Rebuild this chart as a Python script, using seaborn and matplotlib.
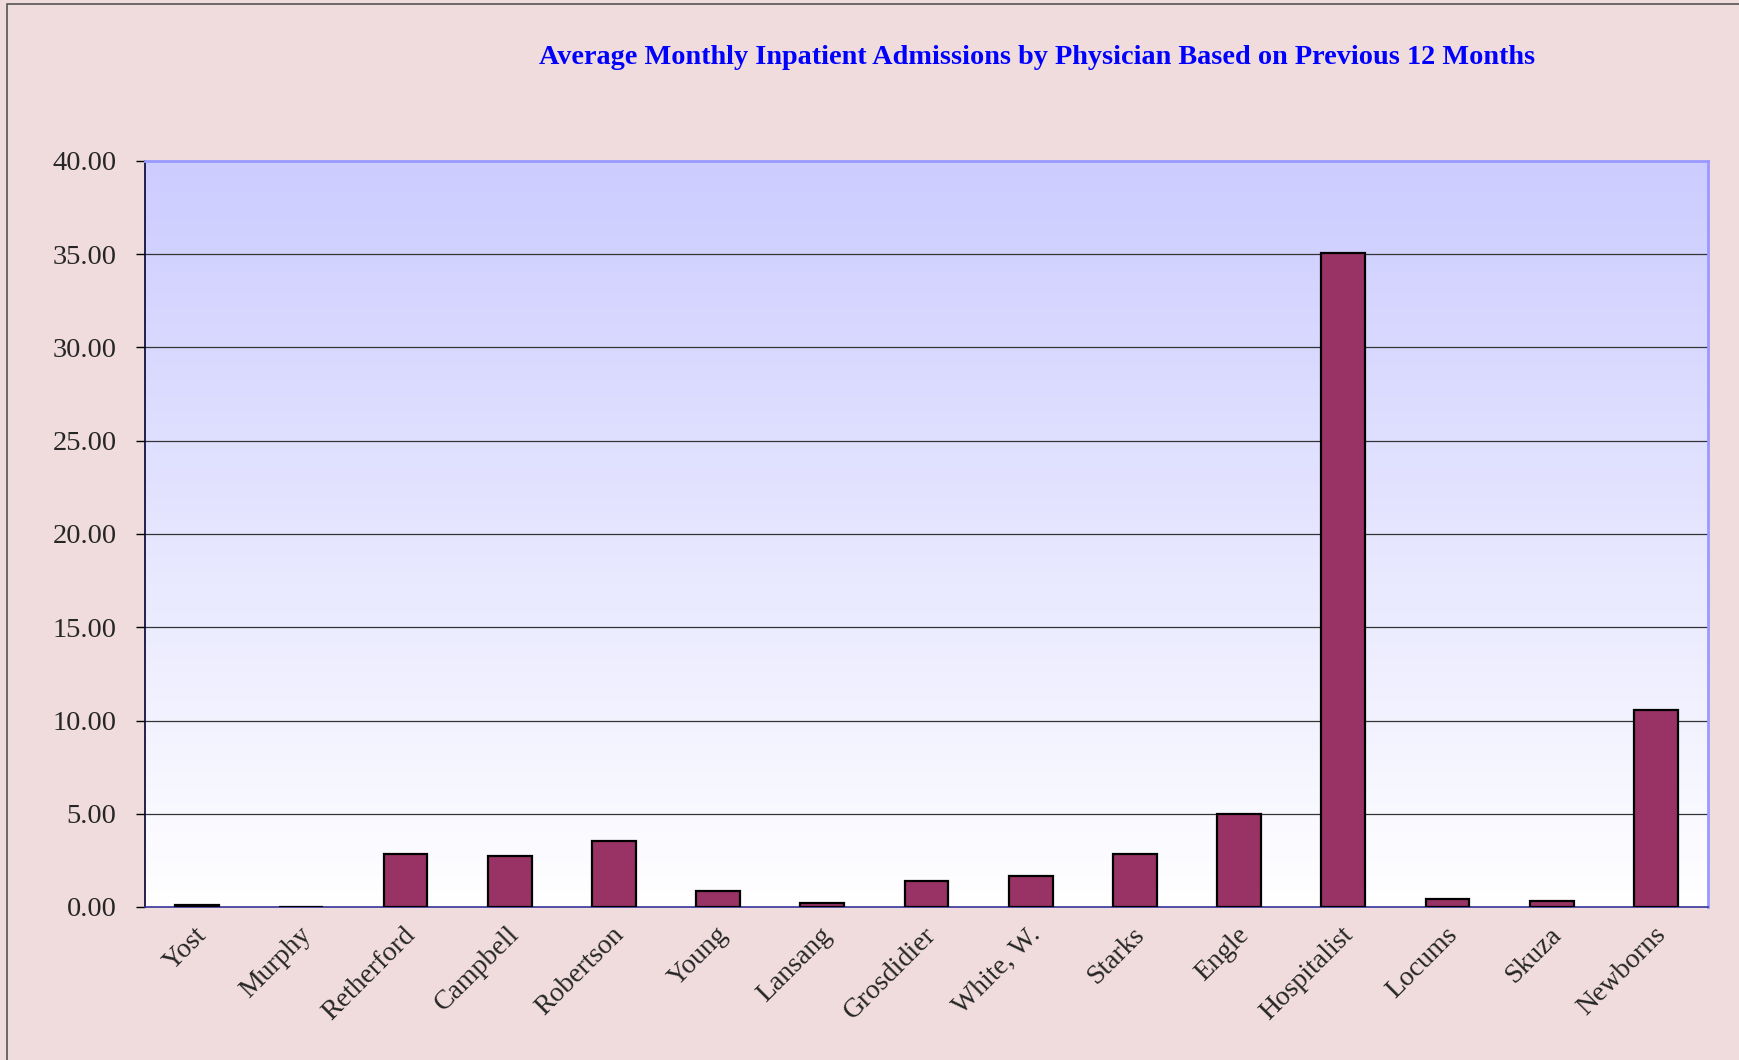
import numpy as np
import pandas as pd
import seaborn as sns
import matplotlib.pyplot as plt
import matplotlib.transforms as mtrans
from matplotlib.patches import Rectangle
from matplotlib.colors import LinearSegmentedColormap

physicians = ["Yost", "Murphy", "Retherford", "Campbell", "Robertson", "Young",
              "Lansang", "Grosdidier", "White, W.", "Starks", "Engle",
              "Hospitalist", "Locums", "Skuza", "Newborns"]
admissions = [0.10, 0.00, 2.85, 2.74, 3.56, 0.87, 0.23, 1.38, 1.66, 2.85,
              5.00, 35.08, 0.42, 0.30, 10.58]
y_ticks = [0, 5, 10, 15, 20, 25, 30, 35, 40]
title = "Average Monthly Inpatient Admissions by Physician Based on Previous 12 Months"

df = pd.DataFrame({"Physician": physicians, "Admissions": admissions})

sns.set_style("white")
plt.rcParams['font.family'] = ['Liberation Serif', 'DejaVu Serif']

fig = plt.figure(figsize=(17.39, 10.60), dpi=100)
fig.patch.set_facecolor("#F0DCDC")
ax = fig.add_axes([145 / 1739, 1 - 907 / 1060, (1708 - 145) / 1739, (907 - 161) / 1060])

# fondo degradado del area del grafico
grad = np.linspace(0, 1, 256).reshape(-1, 1)
cm = LinearSegmentedColormap.from_list("g", ["#FFFFFF", "#CCCCFF"])
ax.imshow(grad, cmap=cm, aspect="auto", origin="lower",
          extent=[-0.5, len(physicians) - 0.5, 0, 40], zorder=0)

sns.barplot(df, x="Physician", y="Admissions", color="#993366", width=0.42,
            saturation=1, edgecolor="black", linewidth=1.6, ax=ax, zorder=3)

ax.set_xlim(-0.5, len(physicians) - 0.5)
ax.set_ylim(0, 40)
ax.set_yticks(y_ticks)
ax.set_yticklabels([f"{v:.2f}" for v in y_ticks], fontsize=20.5)
for v in y_ticks[1:-1]:
    ax.axhline(v, color="#333333", linewidth=0.9, zorder=1)

ax.set_xticks(np.arange(len(physicians) + 1) - 0.5, minor=True)
ax.set_xticks(np.arange(len(physicians)))
ax.set_xticklabels(physicians, rotation=45, ha="right", rotation_mode="anchor", fontsize=20)
ax.tick_params(axis="x", which="major", length=0, pad=11)
ax.tick_params(axis="x", which="minor", length=8, width=1, color="black", direction="out")
ax.tick_params(axis="y", length=6.5, width=1, color="black", direction="out", pad=14, left=True)
off = mtrans.ScaledTranslation(-3 / 100, 0, fig.dpi_scale_trans)
for lab in ax.get_xticklabels():
    lab.set_transform(lab.get_transform() + off)
ax.set_xlabel("")
ax.set_ylabel("")

ax.spines["left"].set_color("#000033")
ax.spines["left"].set_linewidth(1.2)
ax.spines["bottom"].set_color("#333399")
ax.spines["bottom"].set_linewidth(1.2)
for s in ["top", "right"]:
    ax.spines[s].set_color("#9999FF")
    ax.spines[s].set_linewidth(2)

fig.text(1037 / 1739, 1 - 58 / 1060, title, ha="center", va="center",
         color="#0000FF", fontsize=20.3, fontweight="bold")

fig.patches.append(Rectangle((7 / 1739, -0.1), 1.2, 1 - 4 / 1060 + 0.1,
                             transform=fig.transFigure, fill=False,
                             edgecolor="#555555", linewidth=1.2))

fig.savefig("out.png", dpi=100, facecolor=fig.get_facecolor())
